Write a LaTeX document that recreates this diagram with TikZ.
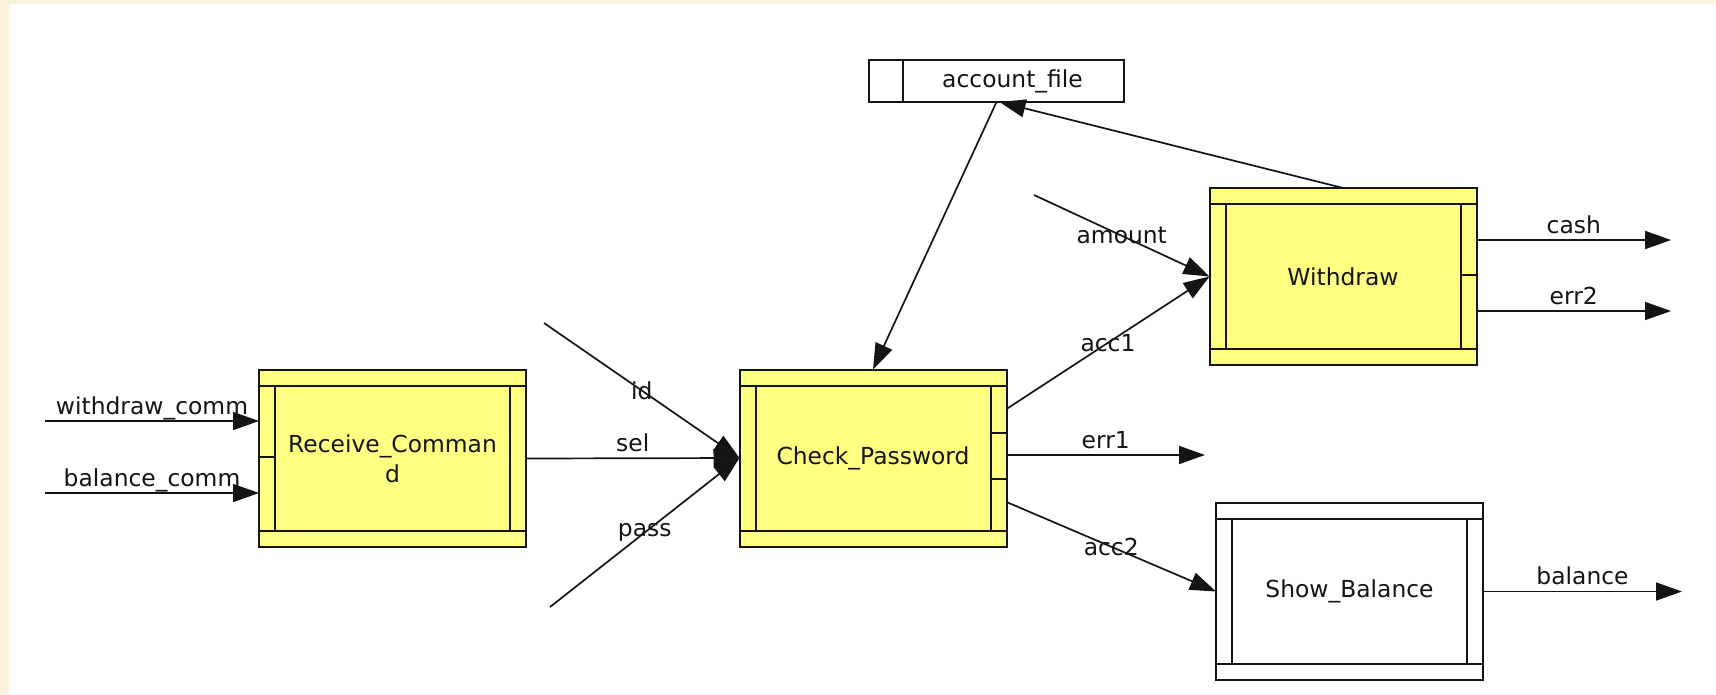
\documentclass[tikz,border=0pt]{standalone}
\usepackage{fontspec}
\setmainfont{DejaVu Sans}
\usetikzlibrary{arrows.meta}
\definecolor{cream}{RGB}{251,241,220}
\definecolor{procyellow}{RGB}{255,255,128}
\definecolor{ink}{RGB}{20,20,20}
\newcommand\bandbox[2]{%
  \draw[boxline] ([yshift=-#2]#1.north west) -- ([yshift=-#2]#1.north east);
  \draw[boxline] ([yshift=#2]#1.south west) -- ([yshift=#2]#1.south east);
  \draw[boxline] ([xshift=#2,yshift=-#2]#1.north west) -- ([xshift=#2,yshift=#2]#1.south west);
  \draw[boxline] ([xshift=-#2,yshift=-#2]#1.north east) -- ([xshift=-#2,yshift=#2]#1.south east);
}
\tikzset{
  proc/.style={draw=ink, line width=2pt, fill=procyellow, minimum width=267pt,
    minimum height=177pt, inner sep=0pt, outer sep=0pt, align=center, text=ink},
  storebox/.style={draw=ink, line width=2pt, fill=white, minimum width=255pt,
    minimum height=42pt, inner sep=0pt, outer sep=0pt},
  boxline/.style={draw=ink, line width=2pt},
  flow/.style={draw=ink, line width=1.7pt, -{Triangle[length=26pt,width=18pt]}},
  hlbl/.style={pos=0.5, anchor=base, yshift=7pt, inner sep=0pt, text=ink},
  albl/.style={pos=0.5, anchor=center, inner sep=0pt, text=ink},
}
\begin{document}
\begin{tikzpicture}[x=1pt, y=-1pt, font=\fontsize{23.4pt}{30pt}\selectfont]
\useasboundingbox (0,0) rectangle (1716,694);
\fill[cream] (0,0) rectangle (1716,694);
\fill[white] (9,4) rectangle (1716,694);

% processes
\node[proc] (RC) at (392.5,458.5) {Receive\_Comman\\d};
\node[proc] (CP) at (873,458) {Check\_Password};
\node[proc] (W) at (1343,276.5) {Withdraw};
\node[proc, fill=white] (SB) at (1349.5,591.5) {Show\_Balance};
\bandbox{RC}{16pt}
\bandbox{CP}{16pt}
\bandbox{W}{16pt}
\bandbox{SB}{16pt}
% port dividers
\draw[boxline] ([yshift=-87pt]RC.north west) -- ([xshift=16pt,yshift=-87pt]RC.north west);
\draw[boxline] ([yshift=-63pt]CP.north east) -- ([xshift=-16pt,yshift=-63pt]CP.north east);
\draw[boxline] ([yshift=-109.5pt]CP.north east) -- ([xshift=-16pt,yshift=-109.5pt]CP.north east);
\draw[boxline] ([yshift=-87pt]W.north east) -- ([xshift=-16pt,yshift=-87pt]W.north east);

% data store
\node[storebox] (AF) at (996.5,81) {};
\draw[boxline] ([xshift=34pt]AF.north west) -- ([xshift=34pt]AF.south west);
\node[inner sep=0pt, text=ink] (AFt) at ([xshift=16pt]AF.center) {account\_file};

% free ends
\coordinate (wcS) at (45,421);
\coordinate (bcS) at (45,493);
\coordinate (idS) at (544,323);
\coordinate (pS) at (550,607);
\coordinate (amS) at (1034,195);
\coordinate (e1E) at (1205,455);
\coordinate (cashE) at (1671,240);
\coordinate (e2E) at (1671,311);
\coordinate (balE) at (1682,591.5);

% flows
\draw[flow] (wcS) -- (wcS -| RC.west) node[hlbl] {withdraw\_comm};
\draw[flow] (bcS) -- (bcS -| RC.west) node[hlbl] {balance\_comm};
\draw[flow] (idS) -- (CP.west) node[albl] {id};
\draw[flow] (RC.east) -- (CP.west) node[hlbl] {sel};
\draw[flow] (pS) -- (CP.west) node[albl] {pass};
\draw[flow] (AF.south) -- (CP.north);
\draw[flow] (W.north) -- ([xshift=3pt]AF.south);
\draw[flow] (amS) -- (W.west) node[albl] {amount};
\draw[flow] ([yshift=49pt]CP.east) -- (W.west) node[albl] {acc1};
\draw[flow] (e1E -| CP.east) -- (e1E) node[hlbl] {err1};
\draw[flow] ([yshift=-44pt]CP.east) -- (SB.west) node[albl] {acc2};
\draw[flow] (cashE -| W.east) -- (cashE) node[hlbl] {cash};
\draw[flow] (e2E -| W.east) -- (e2E) node[hlbl] {err2};
\draw[flow] (SB.east) -- (balE) node[hlbl] {balance};
\end{tikzpicture}
\end{document}
